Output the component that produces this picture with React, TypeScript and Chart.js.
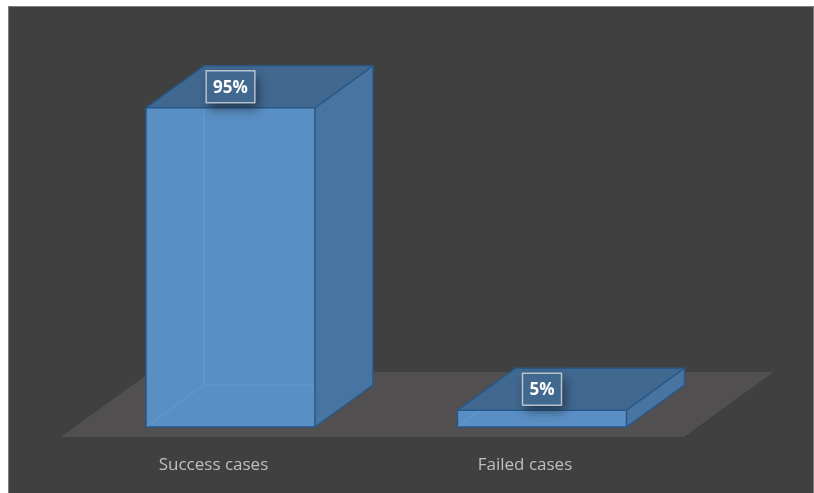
import React, { useEffect, useRef } from "react";
import { Chart, registerables } from "chart.js";

Chart.register(...registerables);

const categories = ["Success cases", "Failed cases"];
const values = [95, 5];
const valueLabels = ["95%", "5%"];

const BG = "#404040";
const FLOOR = "#514f4f";
const FRONT = "#5a8fc4";
const TOP = "#41688f";
const SIDE = "#4874a1";
const EDGE = "#285889";
const HIDDEN = "rgba(110,170,230,0.45)";
const DX = 58;
const DY = 42;

const threeD = {
  id: "threeD",
  beforeDatasetsDraw(chart: any) {
    const { ctx, chartArea: ca, scales } = chart;
    const y0 = scales.y.getPixelForValue(0);
    const ratio = DX / DY;
    const fy = y0 + 10;
    const fx = -10 * ratio;
    const depth = 65;
    const ddx = depth * ratio;
    ctx.save();
    ctx.fillStyle = FLOOR;
    ctx.beginPath();
    ctx.moveTo(ca.left + fx, fy);
    ctx.lineTo(ca.right + fx, fy);
    ctx.lineTo(ca.right + fx + ddx, fy - depth);
    ctx.lineTo(ca.left + fx + ddx, fy - depth);
    ctx.closePath();
    ctx.fill();
    ctx.restore();
  },
  afterDatasetsDraw(chart: any) {
    const { ctx } = chart;
    const meta = chart.getDatasetMeta(0);
    ctx.save();
    meta.data.forEach((bar: any, i: number) => {
      const { x, y, base, width } = bar.getProps(["x", "y", "base", "width"], true);
      const l = x - width / 2;
      const r = x + width / 2;
      // hidden edges seen through the front face
      ctx.strokeStyle = HIDDEN;
      ctx.lineWidth = 1;
      ctx.beginPath();
      ctx.moveTo(l + 1, base - 1);
      ctx.lineTo(l + DX, base - DY);
      ctx.lineTo(r, base - DY);
      ctx.moveTo(l + DX, base - DY);
      ctx.lineTo(l + DX, y);
      ctx.stroke();
      // top face
      ctx.fillStyle = TOP;
      ctx.beginPath();
      ctx.moveTo(l, y);
      ctx.lineTo(r, y);
      ctx.lineTo(r + DX, y - DY);
      ctx.lineTo(l + DX, y - DY);
      ctx.closePath();
      ctx.fill();
      // side face
      ctx.fillStyle = SIDE;
      ctx.beginPath();
      ctx.moveTo(r, y);
      ctx.lineTo(r + DX, y - DY);
      ctx.lineTo(r + DX, base - DY);
      ctx.lineTo(r, base);
      ctx.closePath();
      ctx.fill();
      // edges
      ctx.strokeStyle = EDGE;
      ctx.lineWidth = 1.5;
      ctx.lineJoin = "round";
      ctx.beginPath();
      ctx.moveTo(l, y);
      ctx.lineTo(l + DX, y - DY);
      ctx.lineTo(r + DX, y - DY);
      ctx.lineTo(r + DX, base - DY);
      ctx.lineTo(r, base);
      ctx.moveTo(r, y);
      ctx.lineTo(r + DX, y - DY);
      ctx.stroke();
      ctx.beginPath();
      ctx.rect(l, y, width, base - y);
      ctx.stroke();

      // value label
      const text = valueLabels[i];
      ctx.font = "bold 17px 'Open Sans'";
      const tw = ctx.measureText(text).width;
      const bw = tw + 14;
      const bh = 32;
      const cx = x;
      const cy = y - DY / 2;
      ctx.save();
      ctx.shadowColor = "rgba(0,0,0,0.45)";
      ctx.shadowBlur = 10;
      ctx.shadowOffsetX = 3;
      ctx.shadowOffsetY = 6;
      ctx.fillStyle = TOP;
      ctx.fillRect(cx - bw / 2, cy - bh / 2, bw, bh);
      ctx.restore();
      ctx.strokeStyle = "rgba(205,212,220,0.85)";
      ctx.lineWidth = 1.5;
      ctx.strokeRect(cx - bw / 2, cy - bh / 2, bw, bh);
      ctx.fillStyle = "#ffffff";
      ctx.textAlign = "center";
      ctx.textBaseline = "middle";
      ctx.fillText(text, cx, cy + 1);
    });
    ctx.restore();
  },
};

export default function App() {
  const ref = useRef<HTMLCanvasElement>(null);
  useEffect(() => {
    const chart = new Chart(ref.current as HTMLCanvasElement, {
      type: "bar",
      data: {
        labels: categories,
        datasets: [
          {
            data: values,
            backgroundColor: FRONT,
            borderColor: EDGE,
            borderWidth: 0,
            barPercentage: 0.5425,
            categoryPercentage: 1,
          },
        ],
      },
      options: {
        responsive: false,
        animation: false,
        layout: { padding: { left: 65.75, right: 115.25, top: 84, bottom: 19.6 } },
        plugins: { legend: { display: false }, tooltip: { enabled: false } },
        scales: {
          y: { display: false, min: 0, max: 100 },
          x: {
            grid: { display: false, drawTicks: false },
            border: { display: false },
            afterFit: (scale: any) => {
              scale.height = 46.4;
            },
            ticks: {
              color: "#bfbfbf",
              font: { family: "'Open Sans'", size: 17 },
              padding: 28,
              labelOffset: -17,
            },
          },
        },
      },
      plugins: [threeD],
    });
    return () => chart.destroy();
  }, []);
  return (
    <div
      style={{
        position: "fixed",
        left: 8,
        top: 6,
        width: 806,
        height: 487,
        boxSizing: "border-box",
        borderLeft: "1px solid #7f7f7f",
        borderTop: "1px solid #7f7f7f",
        borderRight: "1px solid #7f7f7f",
        background: BG,
      }}
    >
      <canvas ref={ref} width={804} height={486} style={{ display: "block", width: 804, height: 486 }} />
    </div>
  );
}
